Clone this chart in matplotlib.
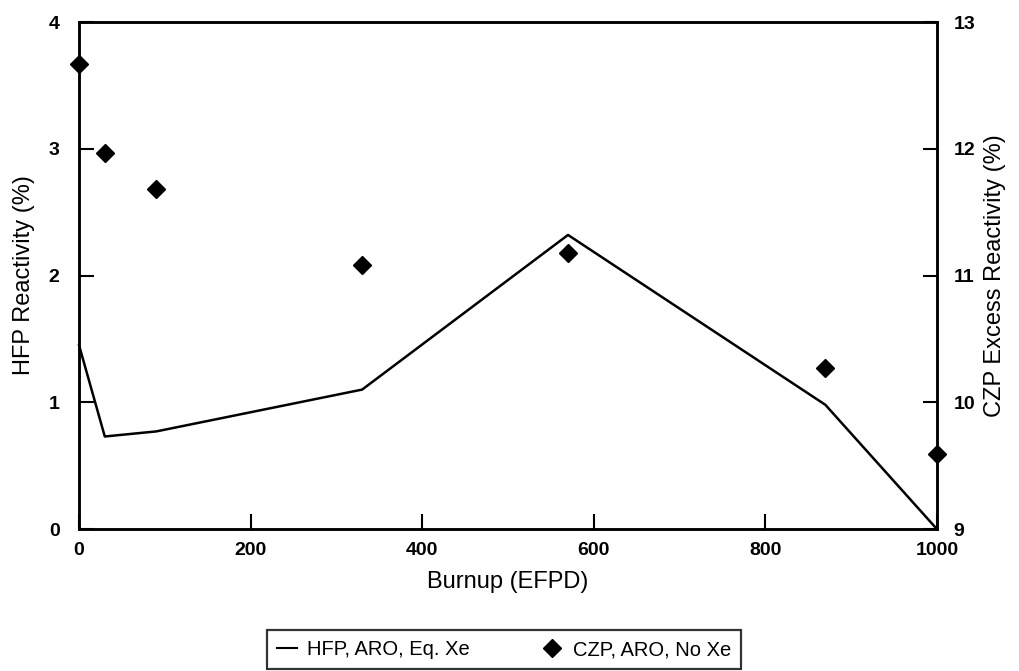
import matplotlib
matplotlib.use("Agg")
import matplotlib.pyplot as plt
from matplotlib.lines import Line2D

plt.rcParams['font.family'] = ['Liberation Sans', 'DejaVu Sans']

# HFP, ARO, Eq. Xe (left axis)
hfp_burnup = [0, 30, 90, 330, 570, 870, 1000]
hfp_reactivity = [1.45, 0.73, 0.77, 1.10, 2.32, 0.98, 0.0]

# CZP, ARO, No Xe (right axis)
czp_burnup = [0, 30, 90, 330, 570, 870, 1000]
czp_reactivity = [12.67, 11.97, 11.68, 11.08, 11.18, 10.27, 9.59]

x_ticks = [0, 200, 400, 600, 800, 1000]
left_ticks = [0, 1, 2, 3, 4]
right_ticks = [9, 10, 11, 12, 13]

fig = plt.figure(figsize=(10.2, 6.71), dpi=100)
ax = fig.add_axes([0.0775, 0.2116, 0.841, 0.7556])
ax2 = ax.twinx()

ax.plot(hfp_burnup, hfp_reactivity, color='black', lw=1.8, clip_on=False, zorder=3)
ax2.plot(czp_burnup, czp_reactivity, linestyle='none', marker='D', color='black',
         markersize=9, clip_on=False, zorder=4)

ax.set_xlim(0, 1000)
ax.set_ylim(0, 4)
ax2.set_ylim(9, 13)
ax.set_xticks(x_ticks)
ax.set_yticks(left_ticks)
ax2.set_yticks(right_ticks)

for a in (ax, ax2):
    for s in a.spines.values():
        s.set_linewidth(1.8)
ax.tick_params(axis='both', direction='in', length=11, width=1.5, labelsize=14, pad=9)
ax.tick_params(axis='y', pad=14)
ax2.tick_params(axis='y', direction='in', length=10, width=1.5, labelsize=14, pad=12)
for lab in ax.get_xticklabels() + ax.get_yticklabels() + ax2.get_yticklabels():
    lab.set_fontweight('bold')

ax.set_xlabel('Burnup (EFPD)', fontsize=17, labelpad=9)
ax.set_ylabel('HFP Reactivity (%)', fontsize=17, labelpad=10)
ax2.set_ylabel('CZP Excess Reactivity (%)', fontsize=17, labelpad=6)

handles = [Line2D([], [], color='black', lw=1.5),
           Line2D([], [], color='black', marker='D', linestyle='none', markersize=9)]
leg = fig.legend(handles, ['HFP, ARO, Eq. Xe', 'CZP, ARO, No Xe'],
                 loc='center', bbox_to_anchor=(0.494, 0.0315), ncol=2, fontsize=14.5,
                 frameon=True, fancybox=False, edgecolor='black', handlelength=1.0,
                 handletextpad=0.5, columnspacing=3.6, borderpad=0.5)
leg.get_frame().set_linewidth(1.6)

fig.savefig('out.png', dpi=100)
